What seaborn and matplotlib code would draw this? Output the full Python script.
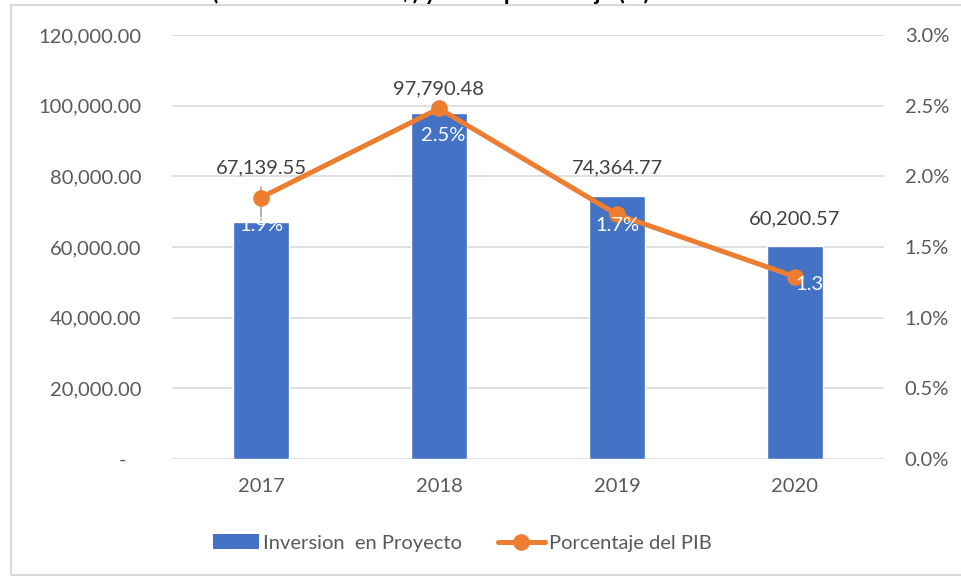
import matplotlib
matplotlib.use("Agg")
import matplotlib.pyplot as plt
from matplotlib.lines import Line2D
from matplotlib.patches import Patch, Rectangle
import matplotlib.ticker as mticker
import seaborn as sns
import pandas as pd
import numpy as np

years = ["2017", "2018", "2019", "2020"]
inversion = [67139.55, 97790.48, 74364.77, 60200.57]
pct_pib = [1.85, 2.48, 1.73, 1.29]
pct_labels = ["1.9%", "2.5%", "1.7%", "1.3"]
left_ticks = [0, 20000, 40000, 60000, 80000, 100000, 120000]
right_ticks = [0.0, 0.5, 1.0, 1.5, 2.0, 2.5, 3.0]

BLUE = "#4472C4"
ORANGE = "#ED7D31"
GRAY_TXT = "#595959"
GRID = "#D9D9D9"

sns.set_style("white")
plt.rcParams["font.family"] = ["Lato", "DejaVu Sans"]
FS = 14.5

df = pd.DataFrame({"year": years, "inversion": inversion, "pct": pct_pib})

fig = plt.figure(figsize=(9.62, 5.76), dpi=100)
ax = fig.add_axes([172 / 962, 117 / 576, 712 / 962, 424 / 576])

# border of the chart area
fig.patches.append(Rectangle((11 / 962, 1 / 576), 1.2, 570 / 576, transform=fig.transFigure,
                             fill=False, edgecolor=GRID, linewidth=1.5))

# title is cut off at the top in the original, only the lower part shows
fig.text(431 / 962, 1.0, "(en millones de US$) y como porcentaje (%)", ha="center", va="baseline",
         fontsize=16.5, fontweight="bold", color="black")

sns.barplot(data=df, x="year", y="inversion", color=BLUE, width=0.315, saturation=1, ax=ax, zorder=2)
ax.set_xlim(-0.5, 3.5)
ax.set_ylim(0, 120000)
ax.set_yticks(left_ticks)
ax.yaxis.set_major_formatter(mticker.FuncFormatter(lambda v, p: "-   " if v == 0 else f"{v:,.2f}"))
ax.grid(axis="y", color=GRID, linewidth=1.2, zorder=0)
ax.set_axisbelow(True)
for s in ax.spines.values():
    s.set_visible(False)
ax.tick_params(axis="both", length=0, labelsize=FS, labelcolor=GRAY_TXT)
ax.tick_params(axis="y", pad=22)
ax.tick_params(axis="x", pad=14)
ax.set_xlabel("")
ax.set_ylabel("")

ax2 = ax.twinx()
sns.lineplot(x=np.arange(len(years)), y=pct_pib, color=ORANGE, linewidth=3.6, marker="o",
             markersize=12, markeredgewidth=0, ax=ax2, zorder=3)
ax2.set_ylim(0, 3.0)
ax2.set_yticks(right_ticks)
ax2.yaxis.set_major_formatter(mticker.FuncFormatter(lambda v, p: f"{v:.1f}%"))
for s in ax2.spines.values():
    s.set_visible(False)
ax2.tick_params(axis="y", length=0, labelsize=FS, labelcolor=GRAY_TXT, pad=15)

# value labels above bars
bar_offsets = [54, 25, 28, 27]
for i, (v, off) in enumerate(zip(inversion, bar_offsets)):
    ax.annotate(f"{v:,.2f}", (i, v), xytext=(0, off * 0.72), textcoords="offset points",
                ha="center", va="center", fontsize=FS, color="#404040", zorder=5)
# leader line for the moved 2017 label
ax.plot([0, 0], [inversion[0] + 500, inversion[0] + 9900], color="#A6A6A6", linewidth=1.2, zorder=2.5)

# percentage labels below points
pct_offsets = [(0, -28), (4, -27), (0, -11), (14, -8)]
for i, (v, lab, (dx, dy)) in enumerate(zip(pct_pib, pct_labels, pct_offsets)):
    ax2.annotate(lab, (i, v), xytext=(dx * 0.72, dy * 0.72), textcoords="offset points",
                 ha="center", va="center", fontsize=FS, color="white", zorder=5)

handles = [Patch(facecolor=BLUE, edgecolor="none"),
           Line2D([0], [0], color=ORANGE, linewidth=3.6, marker="o", markersize=12, markeredgewidth=0)]
fig.legend(handles, ["Inversion  en Proyecto", "Porcentaje del PIB"], loc="center",
           bbox_to_anchor=(462 / 962, 33 / 576), ncol=2, frameon=False, fontsize=FS,
           handlelength=2.3, handletextpad=0.2, columnspacing=1.8, labelcolor=GRAY_TXT)

fig.savefig("out.png", dpi=100)
